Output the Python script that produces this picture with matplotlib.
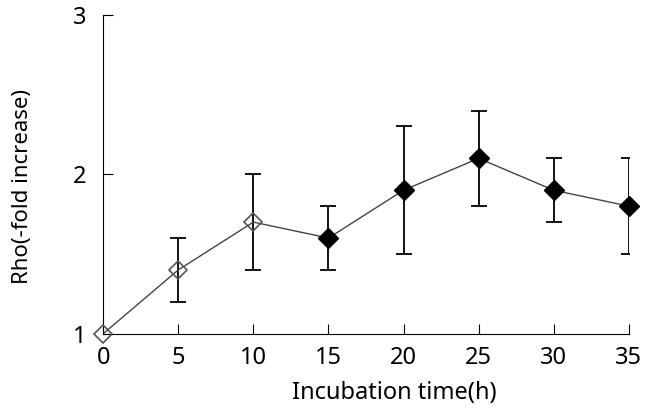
import numpy as np
import matplotlib.pyplot as plt

plt.rcParams['font.family'] = ['Noto Sans', 'DejaVu Sans']

hours = [0, 5, 10, 15, 20, 25, 30, 35]
fold = [1.0, 1.4, 1.7, 1.6, 1.9, 2.1, 1.9, 1.8]
err = [0.0, 0.2, 0.3, 0.2, 0.4, 0.3, 0.2, 0.3]
n_open = 3  # first points drawn as open diamonds

fig = plt.figure(figsize=(6.53, 4.13), dpi=100)
ax = fig.add_axes([0.158, 0.192, 0.805, 0.772])

ax.plot(hours, fold, color='#444444', lw=1, zorder=2)
ax.errorbar(hours[1:], fold[1:], yerr=err[1:], fmt='none', ecolor='black',
            elinewidth=1.3, capsize=6, capthick=1.3, zorder=1)
ax.plot(hours[:n_open], fold[:n_open], 'D', ms=9.5, mfc='none', mec='#555555',
        mew=1.2, ls='none', zorder=3, clip_on=False)
ax.plot(hours[n_open:], fold[n_open:], 'D', ms=10, mfc='black', mec='black',
        ls='none', zorder=3, clip_on=False)

ax.set_xlim(0, 35)
ax.set_ylim(1, 3)
ax.set_xticks(hours)
ax.set_yticks([1, 2, 3])
ax.spines['top'].set_visible(False)
ax.spines['right'].set_visible(False)
ax.tick_params(direction='in', length=7, labelsize=17)
ax.tick_params(axis='x', pad=9)
ax.tick_params(axis='y', pad=12)
ax.set_xlabel('Incubation time(h)', fontsize=17)
ax.set_ylabel('Rho(-fold increase)', fontsize=16)
ax.xaxis.set_label_coords(0.554, -0.148)
ax.yaxis.set_label_coords(-0.133, 0.461)

fig.savefig('out.png', dpi=100)
